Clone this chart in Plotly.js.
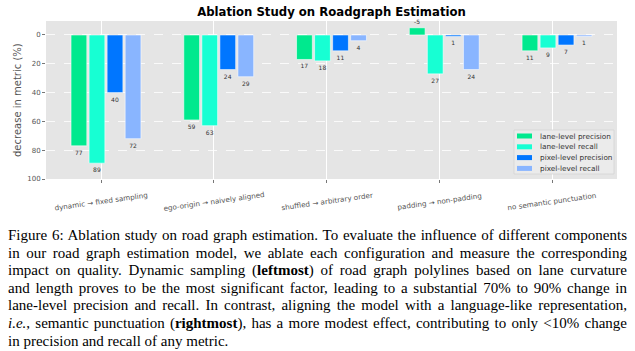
<!DOCTYPE html>
<html>
<head>
<meta charset="utf-8">
<script src="https://cdn.plot.ly/plotly-3.0.1.min.js"></script>
<style>
  html, body { margin: 0; padding: 0; background: #fff; width: 635px; height: 351px; overflow: hidden; }
  #chart { position: absolute; left: 0; top: 0; width: 635px; height: 215px; }
  #caption { position: absolute; left: 8px; top: 227px; width: 619px;
    font-family: "Liberation Serif", "Times New Roman", serif; font-size: 15px; line-height: 17.6px; color: #000; }
  #caption .ln { display: block; white-space: nowrap; text-align: justify; text-align-last: justify; }
  #caption .ln.last { text-align-last: left; }
  #caption b { font-family: "Liberation Serif", serif; font-weight: 700; }
  #caption i { font-family: "Liberation Serif", serif; }
</style>
</head>
<body>
<div id="chart"></div>
<div id="caption">
  <span class="ln">Figure 6: Ablation study on road graph estimation. To evaluate the influence of different components</span>
  <span class="ln">in our road graph estimation model, we ablate each configuration and measure the corresponding</span>
  <span class="ln">impact on quality. Dynamic sampling (<b>leftmost</b>) of road graph polylines based on lane curvature</span>
  <span class="ln">and length proves to be the most significant factor, leading to a substantial 70% to 90% change in</span>
  <span class="ln">lane-level precision and recall. In contrast, aligning the model with a language-like representation,</span>
  <span class="ln"><i>i.e.</i>, semantic punctuation (<b>rightmost</b>), has a more modest effect, contributing to only &lt;10% change</span>
  <span class="ln last">in precision and recall of any metric.</span>
</div>
<script>
// ---- data ----
const categories = [
  'dynamic \u2192 fixed sampling',
  'ego-origin \u2192 naively aligned',
  'shuffled \u2192 arbitrary order',
  'padding \u2192 non-padding',
  'no semantic punctuation'
];
const seriesNames = ['lane-level precision', 'lane-level recall', 'pixel-level precision', 'pixel-level recall'];
const lanePrecision = [77, 59, 17, -5, 11];
const laneRecall    = [89, 63, 18, 27, 9];
const pixelPrecision = [40, 24, 11, 1, 7];
const pixelRecall    = [72, 29, 4, 24, 1];
const yTicks = [0, 20, 40, 60, 80, 100];
const yTitle = 'decrease in metric (%)';

// ---- styling ----
const seriesValues = [lanePrecision, laneRecall, pixelPrecision, pixelRecall];
const colors = ['#00e98e', '#17ffd3', '#0076ff', '#89b5ff'];
const barWidth = 0.14, barStep = 0.16, firstOffset = -0.266;
const FONT = 'DejaVu Sans, sans-serif';

const traces = seriesValues.map((vals, i) => ({
  type: 'bar',
  name: seriesNames[i],
  x: categories,
  y: vals,
  width: barWidth,
  offset: firstOffset + i * barStep,
  marker: { color: colors[i], line: { color: 'rgba(255,255,255,0.7)', width: 0.8 } },
  text: vals.map(v => String(v)),
  textposition: 'outside',
  textfont: { family: FONT, size: 6, color: '#333' },
  cliponaxis: false,
  showlegend: false
}));

// plot area in pixels
const L = 46, R = 18, T = 21, B = 36, W = 635, H = 215;
const pw = W - L - R, ph = H - T - B;
const px2x = p => (p - L) / pw;
const py2y = p => (H - B - p) / ph;

const annotations = categories.map(c => ({
  x: c, xref: 'x', y: 0, yref: 'paper', yshift: -22,
  text: c, showarrow: false, textangle: -8,
  xanchor: 'center', yanchor: 'middle',
  font: { family: FONT, size: 7.2, color: '#555' }
}));

// y-axis title
annotations.push({
  x: px2x(17), xref: 'paper', y: py2y(100), yref: 'paper',
  text: yTitle, showarrow: false, textangle: -90,
  xanchor: 'center', yanchor: 'middle',
  font: { family: FONT, size: 10, color: '#555' }
});

const shapes = [{
  type: 'rect', xref: 'paper', yref: 'paper',
  x0: px2x(514), x1: px2x(614), y0: py2y(174), y1: py2y(130),
  fillcolor: '#ebebeb', line: { color: '#d4d4d4', width: 0.8 }
}];
const rowY = [136, 146.8, 157.6, 168.4];
seriesNames.forEach((n, i) => {
  shapes.push({
    type: 'rect', xref: 'paper', yref: 'paper',
    x0: px2x(517), x1: px2x(532), y0: py2y(rowY[i] + 2.5), y1: py2y(rowY[i] - 2.5),
    fillcolor: colors[i], line: { width: 0 }
  });
  annotations.push({
    x: px2x(538), xref: 'paper', y: py2y(rowY[i]), yref: 'paper',
    text: n, showarrow: false, xanchor: 'left', yanchor: 'middle',
    font: { family: FONT, size: 7.3, color: '#333' }
  });
});

const layout = {
  width: W, height: H,
  margin: { l: L, r: R, t: T, b: B, pad: 0 },
  paper_bgcolor: '#fff',
  plot_bgcolor: '#e5e5e5',
  title: {
    text: '<b>Ablation Study on Roadgraph Estimation</b>',
    font: { family: FONT, size: 11.7, color: '#000' },
    x: (L + pw / 2) / W, xanchor: 'center',
    y: 1 - 12 / H, yanchor: 'middle', yref: 'container'
  },
  xaxis: {
    type: 'category',
    range: [-0.488, 4.576],
    showgrid: true, gridcolor: '#ffffff', gridwidth: 1,
    showticklabels: false,
    ticks: 'outside', ticklen: 3, tickcolor: '#555', tickwidth: 0.8,
    showline: false, zeroline: false
  },
  yaxis: {
    range: [100, -9.7],
    tickvals: yTicks,
    ticktext: yTicks.map(String),
    showgrid: true, gridcolor: '#ffffff', gridwidth: 0.8, griddash: 'dash',
    ticks: 'outside', ticklen: 3, tickcolor: '#555', tickwidth: 0.8,
    tickfont: { family: FONT, size: 7, color: '#555' },
    zeroline: false, showline: false
  },
  annotations: annotations,
  shapes: shapes,
  showlegend: false,
  bargap: 0
};

Plotly.newPlot('chart', traces, layout, { displayModeBar: false, staticPlot: true });

// shrink caption font slightly if any line would overflow its width
(function fit() {
  const cap = document.getElementById('caption');
  let fs = 15;
  const lines = Array.from(cap.querySelectorAll('.ln'));
  let guard = 0;
  while (lines.some(l => l.scrollWidth > l.clientWidth + 0.5) && guard < 40) {
    fs -= 0.1; cap.style.fontSize = fs + 'px'; guard++;
  }
})();
</script>
</body>
</html>
